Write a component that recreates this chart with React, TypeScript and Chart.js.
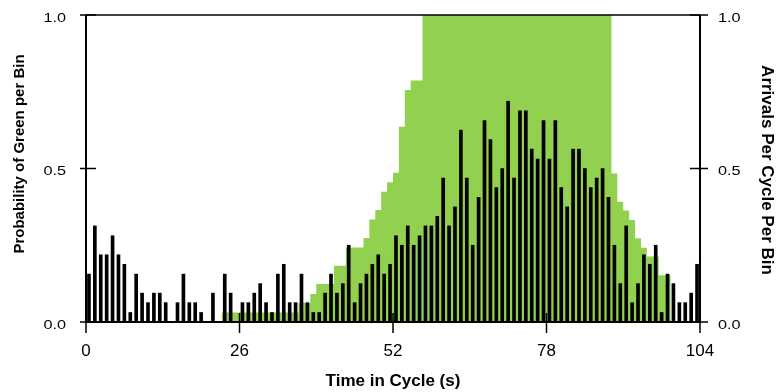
import React, { useEffect, useRef } from "react";
import { Chart, registerables } from "chart.js";

Chart.register(...registerables);

// Tick values for the time axis (seconds) and both probability axes
const TIME_TICKS = [0, 26, 52, 78, 104];
const PROB_TICKS = [0, 0.5, 1.0];

// Probability of green per 1-second bin (bins 0..103)
const greenProb = [
  0, 0, 0, 0, 0, 0, 0, 0, 0, 0,
  0, 0, 0, 0, 0, 0, 0, 0, 0, 0,
  0, 0, 0, 0.031, 0.031, 0.031, 0.031, 0.031, 0.031, 0.031,
  0.031, 0.031, 0.031, 0.031, 0.031, 0.031, 0.062, 0.062, 0.091, 0.124,
  0.124, 0.124, 0.183, 0.183, 0.243, 0.243, 0.243, 0.274, 0.334, 0.365,
  0.424, 0.455, 0.486, 0.636, 0.756, 0.787, 0.787, 1, 1, 1,
  1, 1, 1, 1, 1, 1, 1, 1, 1, 1,
  1, 1, 1, 1, 1, 1, 1, 1, 1, 1,
  1, 1, 1, 1, 1, 1, 1, 1, 1, 0.484,
  0.392, 0.363, 0.332, 0.273, 0.242, 0.213, 0.213, 0.152, 0.152, 0,
  0, 0, 0, 0,
];

// Arrivals per cycle per 1-second bin (bins 0..103)
const arrivals = [
  0.156, 0.313, 0.219, 0.219, 0.281, 0.219, 0.188, 0.031, 0.156, 0.094,
  0.063, 0.094, 0.094, 0.063, 0, 0.063, 0.156, 0.063, 0.063, 0.031,
  0, 0.094, 0, 0.156, 0.094, 0, 0.063, 0.063, 0.094, 0.125,
  0.063, 0.031, 0.156, 0.188, 0.063, 0.063, 0.156, 0.063, 0.031, 0.031,
  0.094, 0.156, 0.094, 0.125, 0.25, 0.063, 0.125, 0.156, 0.188, 0.219,
  0.156, 0.188, 0.281, 0.25, 0.313, 0.25, 0.281, 0.313, 0.313, 0.344,
  0.469, 0.313, 0.375, 0.625, 0.469, 0.25, 0.406, 0.656, 0.594, 0.438,
  0.5, 0.719, 0.469, 0.688, 0.688, 0.563, 0.531, 0.656, 0.531, 0.656,
  0.438, 0.375, 0.563, 0.563, 0.5, 0.438, 0.469, 0.5, 0.406, 0.25,
  0.125, 0.313, 0.063, 0.125, 0.219, 0.188, 0.25, 0.031, 0.156, 0.125,
  0.063, 0.063, 0.094, 0.188,
];

const X_TITLE = "Time in Cycle (s)";
const Y_TITLE_LEFT = "Probability of Green per Bin";
const Y_TITLE_RIGHT = "Arrivals Per Cycle Per Bin";

const GREEN = "rgb(146, 208, 80)";
const FONT = "'Liberation Sans', Arial, sans-serif";

// Axis frame, crossing tick marks and all axis text
const framePlugin = {
  id: "frame",
  afterDatasetsDraw(chart: any) {
    const { ctx, chartArea: a, scales } = chart;
    const x = scales.x;
    const y = scales.y;
    ctx.save();
    ctx.strokeStyle = "#000";
    ctx.fillStyle = "#000";

    // top border
    ctx.lineWidth = 1.5;
    ctx.beginPath();
    ctx.moveTo(a.left, a.top);
    ctx.lineTo(a.right, a.top);
    ctx.stroke();

    // left, right and bottom axes
    ctx.lineWidth = 2;
    ctx.beginPath();
    ctx.moveTo(a.left, a.top);
    ctx.lineTo(a.left, a.bottom);
    ctx.moveTo(a.right, a.top);
    ctx.lineTo(a.right, a.bottom);
    ctx.moveTo(a.left, a.bottom);
    ctx.lineTo(a.right, a.bottom);
    ctx.stroke();

    // tick marks
    ctx.lineWidth = 1.5;
    ctx.beginPath();
    for (const v of PROB_TICKS) {
      const py = y.getPixelForValue(v);
      ctx.moveTo(a.left - 6, py);
      ctx.lineTo(a.left + 10, py);
      ctx.moveTo(a.right - 10, py);
      ctx.lineTo(a.right + 8, py);
    }
    for (const t of TIME_TICKS) {
      const px = x.getPixelForValue(t);
      ctx.moveTo(px, a.bottom - 9);
      ctx.lineTo(px, a.bottom + 11);
    }
    ctx.stroke();

    // probability tick labels (left and right)
    ctx.font = `13px ${FONT}`;
    ctx.textBaseline = "middle";
    const sx = 1.25;
    for (const v of PROB_TICKS) {
      const py = y.getPixelForValue(v) + 3;
      const label = v.toFixed(1);
      ctx.save();
      ctx.translate(a.left - 20, py);
      ctx.scale(sx, 1);
      ctx.textAlign = "right";
      ctx.fillText(label, 0, 0);
      ctx.restore();
      ctx.save();
      ctx.translate(a.right + 18, py);
      ctx.scale(sx, 1);
      ctx.textAlign = "left";
      ctx.fillText(label, 0, 0);
      ctx.restore();
    }

    // time tick labels
    ctx.font = `17px ${FONT}`;
    ctx.textAlign = "center";
    for (const t of TIME_TICKS) {
      ctx.fillText(String(t), x.getPixelForValue(t), 351);
    }

    // axis titles
    ctx.font = `bold 17px ${FONT}`;
    ctx.fillText(X_TITLE, (a.left + a.right) / 2, 381);

    ctx.save();
    ctx.font = `bold 15px ${FONT}`;
    ctx.translate(20, 154);
    ctx.rotate(-Math.PI / 2);
    ctx.fillText(Y_TITLE_LEFT, 0, 0);
    ctx.restore();

    ctx.save();
    ctx.font = `bold 17px ${FONT}`;
    ctx.translate(767, 170);
    ctx.rotate(Math.PI / 2);
    ctx.fillText(Y_TITLE_RIGHT, 0, 0);
    ctx.restore();

    ctx.restore();
  },
};

export default function App() {
  const canvasRef = useRef<HTMLCanvasElement | null>(null);

  useEffect(() => {
    const canvas = canvasRef.current;
    if (!canvas) return;

    const binCenters = arrivals.map((_, i) => i + 0.5);

    const chart = new Chart(canvas, {
      type: "bar",
      data: {
        datasets: [
          {
            type: "bar",
            label: "Arrivals",
            data: arrivals.map((v, i) => ({ x: binCenters[i], y: v })),
            backgroundColor: "#000",
            borderWidth: 0,
            barThickness: 3,
            yAxisID: "y2",
            order: 1,
          } as any,
          {
            type: "line",
            label: "Green",
            data: greenProb.map((v, i) => ({ x: binCenters[i], y: v })),
            stepped: "middle",
            fill: "origin",
            backgroundColor: GREEN,
            borderColor: GREEN,
            borderWidth: 0,
            pointRadius: 0,
            yAxisID: "y",
            order: 2,
          } as any,
        ],
      },
      options: {
        responsive: false,
        animation: false,
        layout: { padding: { left: 86, right: 77, top: 15, bottom: 70 } },
        plugins: {
          legend: { display: false },
          tooltip: { enabled: false },
        },
        scales: {
          x: {
            type: "linear",
            min: 0,
            max: 104,
            offset: false,
            display: false,
            grid: { offset: false },
          },
          y: { type: "linear", min: 0, max: 1, display: false },
          y2: { type: "linear", min: 0, max: 1, display: false, position: "right" },
        },
      },
      plugins: [framePlugin],
    });

    return () => chart.destroy();
  }, []);

  return (
    <div style={{ position: "fixed", left: 0, top: 0, width: 777, height: 392, background: "#fff" }}>
      <canvas ref={canvasRef} width={777} height={392} style={{ display: "block" }} />
    </div>
  );
}
